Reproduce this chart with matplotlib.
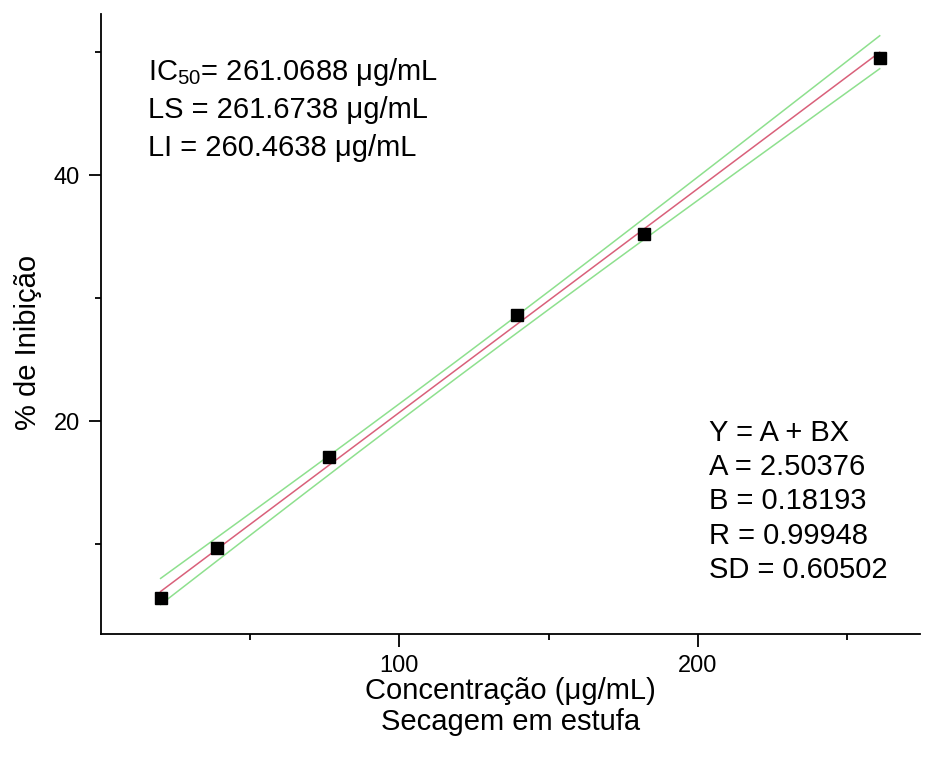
import numpy as np
import matplotlib
matplotlib.use('Agg')
import matplotlib.pyplot as plt
from matplotlib.ticker import FixedLocator

plt.rcParams['font.family'] = ['Liberation Sans', 'DejaVu Sans']
plt.rcParams['mathtext.fontset'] = 'custom'
plt.rcParams['mathtext.rm'] = 'Liberation Sans'
plt.rcParams['mathtext.it'] = 'Liberation Sans'

# data
conc = [20, 39, 76.5, 139.3, 182, 261]
inhib = [5.6, 9.7, 17.1, 28.6, 35.2, 49.5]

# fit results shown on the chart
A = 2.50376
B = 0.18193
R = 0.99948
SD = 0.60502
t95 = 2.776  # t(0.975, n-2=4)

ic50_lines = ['IC$_{50}$= 261.0688 μg/mL', 'LS = 261.6738 μg/mL', 'LI = 260.4638 μg/mL']
fit_lines = ['Y = A + BX', 'A = 2.50376', 'B = 0.18193', 'R = 0.99948', 'SD = 0.60502']

x = np.array(conc)
xf = np.linspace(x.min(), x.max(), 200)
yf = A + B * xf
sxx = ((x - x.mean()) ** 2).sum()
half = t95 * SD * np.sqrt(1 / len(x) + (xf - x.mean()) ** 2 / sxx)

fig = plt.figure(figsize=(9.26, 7.63), dpi=100)
ax = fig.add_axes([0.109, 0.169, 0.8845, 0.8127])

ax.plot(xf, yf + half, color='#8ee08e', lw=1.1)
ax.plot(xf, yf - half, color='#8ee08e', lw=1.1)
ax.plot(xf, yf, color='#d9607a', lw=1.1)
ax.plot(conc, inhib, 's', color='black', ms=9, zorder=5)

ax.set_xlim(0, 274.5)
ax.set_ylim(2.68, 53.1)
ax.xaxis.set_major_locator(FixedLocator([100, 200]))
ax.xaxis.set_minor_locator(FixedLocator([50, 150, 250]))
ax.yaxis.set_major_locator(FixedLocator([20, 40]))
ax.yaxis.set_minor_locator(FixedLocator([10, 30, 50]))
ax.spines['top'].set_visible(False)
ax.spines['right'].set_visible(False)
for s in ('left', 'bottom'):
    ax.spines[s].set_linewidth(1.3)
ax.tick_params(which='major', direction='out', length=9, width=1.3, labelsize=17, pad=6)
ax.tick_params(which='minor', direction='out', length=4.5, width=1.3)

ax.set_ylabel('% de Inibição', fontsize=21)
ax.yaxis.set_label_coords(-0.072, 0.471)
ax.set_xlabel('Concentração (μg/mL)\nSecagem em estufa', fontsize=21, labelpad=0, linespacing=1.15)

for i, t in enumerate(ic50_lines):
    fig.text(148 / 926, 1 - (72 + i * 38) / 763, t, fontsize=21, va='center', ha='left')
for i, t in enumerate(fit_lines):
    fig.text(709 / 926, 1 - (433 + i * 34.2) / 763, t, fontsize=21, va='center', ha='left')

fig.savefig('out.png', dpi=100)
